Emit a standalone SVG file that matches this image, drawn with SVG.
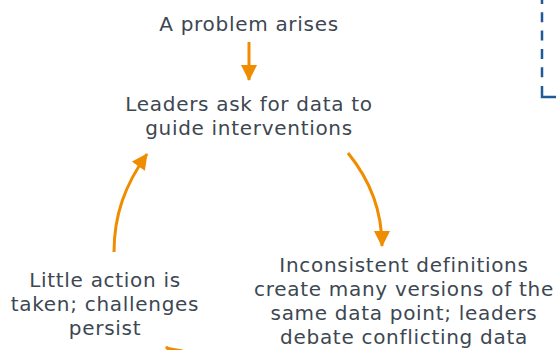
<svg xmlns="http://www.w3.org/2000/svg" width="556" height="350" viewBox="0 0 556 350">
  <style>
    .t { font-family: "DejaVu Sans", Verdana, sans-serif; font-size: 20px; letter-spacing: 0.7px; fill: #3d4752; text-anchor: middle; }
    .c { fill: none; stroke: #f08c00; stroke-width: 3; }
    .frame { fill: none; stroke: #1f5a96; stroke-width: 2.5; }
  </style>
  <defs>
    <marker id="ah" markerUnits="userSpaceOnUse" markerWidth="16" markerHeight="16" refX="15" refY="8" orient="auto">
      <path d="M0,0 L16,8 L0,16 z" fill="#f08c00"/>
    </marker>
  </defs>
  <rect width="556" height="350" fill="#ffffff"/>

  <g id="frame">
    <path class="frame" d="M542,-6 L542,78" stroke-dasharray="10 8.3" stroke-dashoffset="0"/>
    <path class="frame" d="M542,86 L542,97 L560,97"/>
  </g>

  <g id="connectors">
    <path class="c" d="M249,42 L249,80" marker-end="url(#ah)"/>
    <path class="c" d="M348,153 C370,180 382,210 382,246" marker-end="url(#ah)"/>
    <path class="c" d="M114,252 C114,215 125,185 147,154" marker-end="url(#ah)"/>
    <path class="c" d="M300,400 Q205,376 166,347" marker-end="url(#ah)"/>
  </g>

  <g id="node-problem">
    <text class="t" x="249" y="31">A problem arises</text>
  </g>
  <g id="node-leaders">
    <text class="t" x="249" y="111">Leaders ask for data to</text>
    <text class="t" x="249" y="135">guide interventions</text>
  </g>
  <g id="node-inconsistent">
    <text class="t" x="404" y="272">Inconsistent definitions</text>
    <text class="t" x="404" y="296">create many versions of the</text>
    <text class="t" x="404" y="320">same data point; leaders</text>
    <text class="t" x="404" y="344">debate conflicting data</text>
  </g>
  <g id="node-little">
    <text class="t" x="105" y="287">Little action is</text>
    <text class="t" x="105" y="311">taken; challenges</text>
    <text class="t" x="105" y="335">persist</text>
  </g>
</svg>
